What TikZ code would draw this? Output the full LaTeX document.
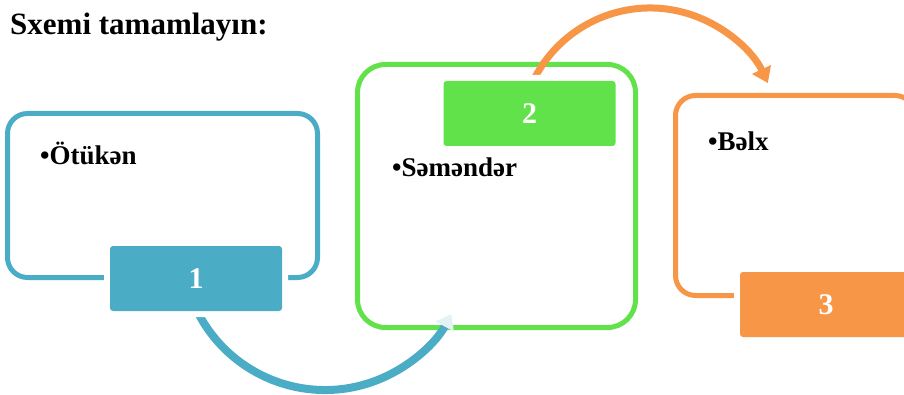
\documentclass[tikz,border=0pt]{standalone}
\usepackage{fontspec}
\setmainfont{Liberation Serif}
\usetikzlibrary{arrows.meta, calc}

\definecolor{bluec}{HTML}{4BACC6}
\definecolor{greenc}{HTML}{62E24A}
\definecolor{orangec}{HTML}{F79646}
\definecolor{tipc}{HTML}{E4F1F6}

\tikzset{
  frame/.style={draw=#1, line width=5pt, rounded corners=20pt, inner sep=0pt},
  numbox/.style={fill=#1, rounded corners=3pt, minimum width=172pt, minimum height=65pt,
    inner sep=0pt, text=white, font=\bfseries\fontsize{30}{30}\selectfont,
    preaction={draw=white, line width=12pt}},
  item/.style={anchor=base west, inner sep=0pt, font=\bfseries\fontsize{27}{27}\selectfont}
}

\begin{document}
\begin{tikzpicture}[x=1pt, y=1pt, line cap=round]
    \def\rb{143pt} %radius of lower arc
    \def\ro{130pt} %radius of upper arc

\useasboundingbox (0,0) rectangle (904,394);
\clip (0,0) rectangle (904,394);

% title
\node[anchor=base west, inner sep=0pt, font=\bfseries\fontsize{31}{31}\selectfont] (title) at (10,359) {Sxemi tamamlayın:};

% outer frames
\node[frame=bluec, minimum width=310pt, minimum height=164pt] (b1) at (162.5,198.5) {};
\node[frame=greenc, rounded corners=28pt, minimum width=278pt, minimum height=263pt] (b2) at (496.5,198) {};
\node[frame=orangec, minimum width=239.5pt, minimum height=200pt] (b3) at (795.25,198.5) {};

% centres and start points of the two arcs
\coordinate (c1) at (325,147);
\coordinate (c2) at (650,256);
\coordinate (s1) at ($(c1)+(203:\rb)$);
\coordinate (s2) at ($(c2)+(160:\ro)$);

% arcs between the boxes
\draw[line width=8pt, draw=bluec, line cap=butt, -{Triangle[length=14pt, width=20pt, color=tipc]}]
   (s1) arc[start angle=203, end angle=332, radius=\rb];
\draw[line width=7pt, draw=orangec, line cap=butt, -{Triangle[length=15pt, width=20pt]}]
   (s2) arc[start angle=160, end angle=25, radius=\ro];

% numbered boxes
\node[numbox=bluec] (n1) at (196,115.5) {1};
\node[numbox=greenc] (n2) at (529.5,280.5) {2};
\node[numbox=orangec] (n3) at (826,89.5) {3};

% items
\node[item] (t1) at (40,229) {•Ötükən};
\node[item] (t2) at (392,217) {•Səməndər};
\node[item] (t3) at (708,243) {•Bəlx};

\end{tikzpicture}
\end{document}
